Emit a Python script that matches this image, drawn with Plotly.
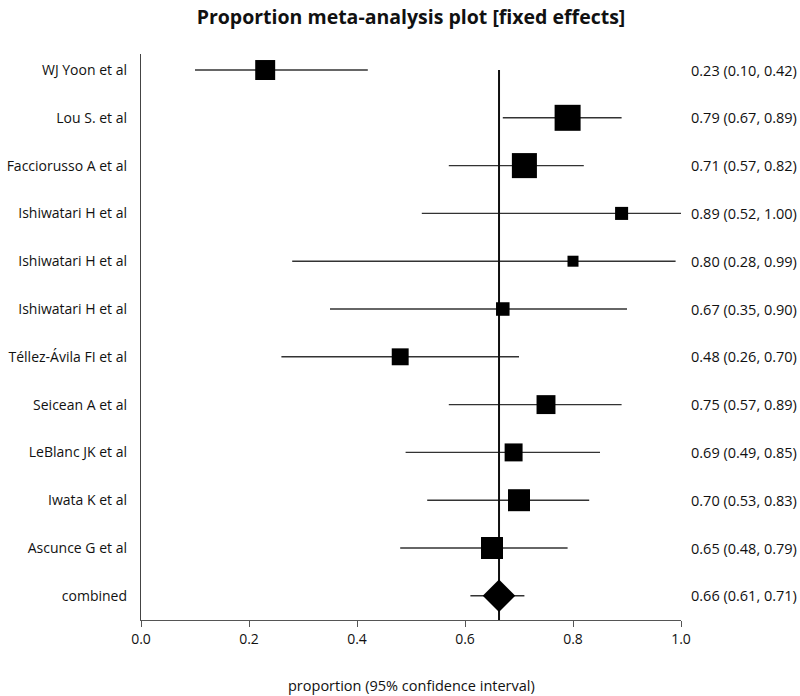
import plotly.graph_objects as go

studies = ["WJ Yoon et al", "Lou S. et al", "Facciorusso A et al", "Ishiwatari H et al",
           "Ishiwatari H et al", "Ishiwatari H et al", "Téllez-Ávila FI et al", "Seicean A et al",
           "LeBlanc JK et al", "Iwata K et al", "Ascunce G et al"]
est = [0.23, 0.79, 0.71, 0.89, 0.80, 0.67, 0.48, 0.75, 0.69, 0.70, 0.65]
lo = [0.10, 0.67, 0.57, 0.52, 0.28, 0.35, 0.26, 0.57, 0.49, 0.53, 0.48]
hi = [0.42, 0.89, 0.82, 1.00, 0.99, 0.90, 0.70, 0.89, 0.85, 0.83, 0.79]
weight = [8.9, 15.1, 14.0, 3.8, 2.7, 4.1, 6.4, 8.0, 7.2, 10.8, 10.8]  # relative weights (%)
combined_label = "combined"
combined_est = 0.663
combined_lo = 0.61
combined_hi = 0.71
xticks = [0.0, 0.2, 0.4, 0.6, 0.8, 1.0]

FONT = "Open Sans"
ink = "#111111"

n = len(studies)
rows = list(range(n))
comb_row = n
max_w = max(weight)
sizes = [26 * (w / max_w) ** 0.5 for w in weight]

fig = go.Figure()

# confidence interval lines
for i in rows:
    fig.add_trace(go.Scatter(x=[lo[i], hi[i]], y=[i, i], mode="lines",
                             line=dict(color="#333333", width=1.4),
                             hoverinfo="skip", showlegend=False))
fig.add_trace(go.Scatter(x=[combined_lo, combined_hi], y=[comb_row, comb_row], mode="lines",
                         line=dict(color="#333333", width=1.4),
                         hoverinfo="skip", showlegend=False))

# vertical line at combined estimate
fig.add_trace(go.Scatter(x=[combined_est, combined_est], y=[0, comb_row + 0.506], mode="lines",
                         line=dict(color=ink, width=2),
                         hoverinfo="skip", showlegend=False))

# study squares
fig.add_trace(go.Scatter(x=est, y=rows, mode="markers",
                         marker=dict(symbol="square", size=sizes, color="black", opacity=1,
                                     line=dict(width=0)),
                         showlegend=False))
# combined diamond
fig.add_trace(go.Scatter(x=[combined_est], y=[comb_row], mode="markers",
                         marker=dict(symbol="diamond", size=25, color="black", opacity=1,
                                     line=dict(width=0)),
                         showlegend=False))

# right-side labels
labels = [f"{e:.2f} ({l:.2f}, {h:.2f})" for e, l, h in zip(est, lo, hi)]
labels.append(f"{combined_est:.2f} ({combined_lo:.2f}, {combined_hi:.2f})")
for i, t in enumerate(labels):
    fig.add_annotation(x=1.0145, xref="paper", y=i, yref="y", text=t, showarrow=False,
                       xanchor="left", yanchor="middle",
                       font=dict(family=FONT, size=14.5, color=ink))

fig.add_annotation(x=0.5, xref="paper", y=-0.115, yref="paper",
                   text="proportion (95% confidence interval)", showarrow=False,
                   xanchor="center", yanchor="middle",
                   font=dict(family=FONT, size=14.5, color=ink))

fig.update_layout(
    width=800, height=696,
    margin=dict(l=141, r=119, t=54, b=76, autoexpand=False),
    paper_bgcolor="white", plot_bgcolor="white",
    title=dict(text="<b>Proportion meta-analysis plot [fixed effects]</b>",
               x=0.5, xref="paper", xanchor="center", y=0.975, yanchor="middle",
               font=dict(family=FONT, size=19.5, color=ink)),
    xaxis=dict(range=[0, 1], tickvals=xticks, ticktext=[f"{v:.1f}" for v in xticks],
               showgrid=False, zeroline=False, showline=True, linecolor="#555555",
               linewidth=1.2, ticks="outside", ticklen=6, tickcolor="#555555",
               automargin=False,
               tickfont=dict(family=FONT, size=14, color=ink)),
    yaxis=dict(range=[n + 0.506, -0.335], tickvals=rows + [comb_row],
               ticktext=studies + [combined_label],
               showgrid=False, zeroline=False, showline=True, linecolor="#444444",
               linewidth=1.4, ticks="", ticklabelstandoff=10, automargin=False,
               tickfont=dict(family=FONT, size=14, color=ink)),
)

fig.write_html("out.html", config={"displayModeBar": False},
               post_script="document.body.style.margin='0';")
